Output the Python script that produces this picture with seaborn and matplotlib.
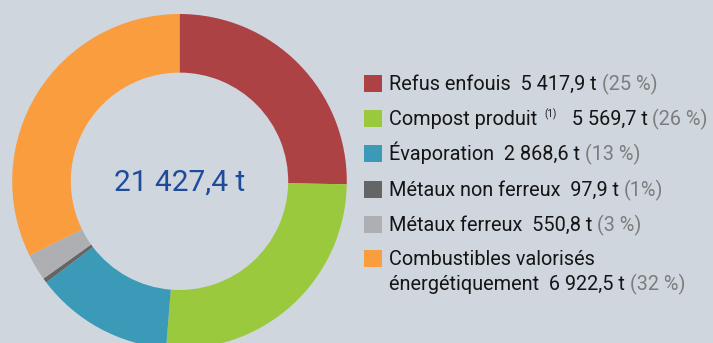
import matplotlib
matplotlib.use("Agg")
import matplotlib.pyplot as plt
import seaborn as sns

# Tonnages per output stream (t)
categories = ["Refus enfouis", "Compost produit", "Évaporation",
              "Métaux non ferreux", "Métaux ferreux",
              "Combustibles valorisés\nénergétiquement"]
tonnages = [5417.9, 5569.7, 2868.6, 97.9, 550.8, 6922.5]
shares = ["(25 %)", "(26 %)", "(13 %)", "(1%)", "(3 %)", "(32 %)"]
notes = ["", "(1)", "", "", "", ""]
colors_hex = ["#ad4245", "#9bc93d", "#3b9ab7", "#656565", "#aeafb2", "#f99d3e"]

BG = "#cfd6de"
W, H = 713, 343

sns.set_theme(style="white", rc={"figure.facecolor": BG, "axes.facecolor": BG})
plt.rcParams["font.family"] = ["Roboto", "DejaVu Sans"]
palette = sns.color_palette(colors_hex)


def fr_number(v):
    return f"{v:,.1f}".replace(",", " ").replace(".", ",")


fig = plt.figure(figsize=(W / 100, H / 100), dpi=100)
ax = fig.add_axes([0, 0, 1, 1])

# Donut
cx, cy, r_out = 179.5, H - 181.3, 167.3
ring = 58.6
ax.pie(tonnages, colors=palette, startangle=90, counterclock=False,
       center=(cx, cy), radius=r_out,
       wedgeprops=dict(width=ring, linewidth=0), frame=True)
ax.set_xlim(0, W)
ax.set_ylim(0, H)
ax.set_aspect("equal")
ax.axis("off")

total = sum(tonnages)
ax.text(cx, cy - 1, f"{fr_number(total)} t", ha="center", va="center",
        fontsize=21.5, color="#1f4b9b")

renderer = fig.canvas.get_renderer()


def put(x, y, s, **kw):
    """Draw a text at data (x, y) on its baseline; return the data x where it ends."""
    t = ax.text(x, y, s, va="baseline", ha="left", **kw)
    x1 = t.get_window_extent(renderer).x1
    return ax.transData.inverted().transform((x1, 0))[0]


# Legend rows (baseline positions in pixels from the top)
baselines = [90, 125, 160, 196, 231, 265]
line_gap = 25
sq_x, sq_size = 364, 18
txt_x = 389
fs = 14.3
black = "#151515"
grey = "#7d7d7d"

for i, (name, val, share, note, col) in enumerate(
        zip(categories, tonnages, shares, notes, palette)):
    yb = baselines[i]
    ax.add_patch(plt.Rectangle((sq_x, H - (yb + 2)), sq_size, sq_size - 1,
                               facecolor=col, edgecolor="none"))
    lines = name.split("\n")
    for k, ln in enumerate(lines[:-1]):
        put(txt_x, H - yb - k * line_gap, ln, fontsize=fs, color=black)
    y = H - yb - (len(lines) - 1) * line_gap
    if note:
        x = put(txt_x, y, lines[-1] + " ", fontsize=fs, color=black)
        x = put(x + 2, y + 7.5, note, fontsize=7, color=black)
        x = put(x + 5, y, f"  {fr_number(val)} t ", fontsize=fs, color=black)
    else:
        x = put(txt_x, y, f"{lines[-1]}  {fr_number(val)} t ",
                fontsize=fs, color=black)
    put(x, y, share, fontsize=fs, color=grey)

fig.savefig("out.png", dpi=100, facecolor=BG)
